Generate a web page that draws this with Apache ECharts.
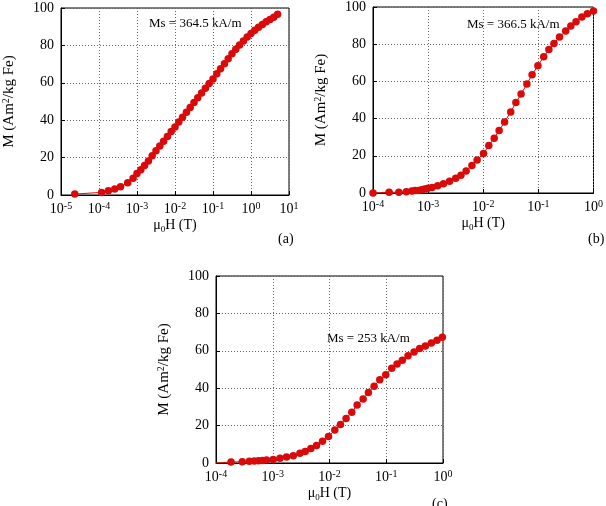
<!DOCTYPE html>
<html>
<head>
<meta charset="utf-8">
<script src="https://cdn.jsdelivr.net/npm/echarts@6/dist/echarts.min.js"></script>
<style>
  html, body { margin: 0; padding: 0; background: #fff; }
  #chart { width: 606px; height: 506px; }
</style>
</head>
<body>
<div id="chart"></div>
<script>
// field (T) and magnetisation (Am2/kg Fe)
let hA = [2.3e-5, 1.17e-4, 1.76e-4, 2.6e-4, 3.7e-4, 5.7e-4, 7.9e-4,
    1.0e-3, 1.26e-3, 1.58e-3, 2.0e-3, 2.51e-3, 3.16e-3, 3.98e-3, 5.01e-3, 6.31e-3, 7.94e-3,
    1.0e-2, 1.26e-2, 1.58e-2, 2.0e-2, 2.51e-2, 3.16e-2, 3.98e-2, 5.01e-2, 6.31e-2, 7.94e-2,
    0.1, 0.126, 0.158, 0.2, 0.251, 0.316, 0.398, 0.501, 0.631, 0.794,
    1.0, 1.26, 1.58, 2.0, 2.51, 3.16, 3.98, 5.01];
let mA = [0.5, 1.4, 2.3, 3.2, 4.4, 6.6, 8.9,
    11.5, 13.5, 15.8, 18.2, 21, 23.6, 26.2, 28.8, 31.3, 33.9,
    36.4, 39, 41.6, 44.2, 46.8, 49.4, 52, 54.6, 57.1, 59.6,
    62, 64.8, 67.5, 70.2, 72.9, 75.5, 77.9, 80.2, 82.4, 84.5,
    86.4, 88.1, 89.7, 91.2, 92.6, 93.9, 95.1, 96.6];

let hB = [1.0e-4, 1.96e-4, 2.94e-4, 4.02e-4, 5.06e-4, 5.78e-4, 6.62e-4, 7.58e-4, 8.67e-4, 9.93e-4,
    1.18e-3, 1.49e-3, 1.90e-3, 2.45e-3, 3.17e-3, 3.94e-3, 4.89e-3, 6.23e-3, 7.74e-3,
    1.01e-2, 1.26e-2, 1.58e-2, 1.94e-2, 2.44e-2, 3.15e-2, 3.91e-2, 4.85e-2, 6.19e-2, 7.69e-2,
    9.80e-2, 0.125, 0.155, 0.192, 0.242, 0.313, 0.388, 0.482, 0.615, 0.774, 1.0];
let mB = [0, 0.4, 0.4, 0.7, 1.1, 1.3, 1.4, 1.8, 2.1, 2.5,
    3.0, 3.9, 5.0, 6.3, 7.9, 9.6, 11.8, 14.8, 17.7,
    21.3, 25.5, 29.5, 33.6, 38.2, 43.6, 48.6, 53.2, 58.6, 63.6,
    68.4, 73.2, 77.1, 80.4, 83.9, 87.1, 89.8, 92.1, 94.6, 96.4, 97.9];

// panel (c): the line starts on the left axis, the first marker is further right
let hC = [1.0e-4, 1.84e-4, 2.90e-4, 3.86e-4, 4.72e-4, 5.63e-4, 6.62e-4, 7.78e-4,
    1.02e-3, 1.34e-3, 1.75e-3, 2.30e-3, 3.01e-3, 3.73e-3, 4.70e-3, 5.91e-3, 7.53e-3,
    9.60e-3, 1.24e-2, 1.56e-2, 1.96e-2, 2.47e-2, 3.07e-2, 3.91e-2, 4.85e-2, 6.11e-2, 7.69e-2,
    9.80e-2, 0.125, 0.155, 0.192, 0.242, 0.309, 0.388, 0.489, 0.623, 0.784, 0.973];
let mC = [0, 0.5, 0.7, 0.9, 1.1, 1.2, 1.4, 1.6,
    1.9, 2.5, 3.2, 3.9, 5.2, 6.2, 7.7, 9.4, 11.6,
    14.2, 17.6, 20.6, 23.8, 27.2, 31.0, 34.2, 37.7, 41.1, 44.5,
    47.2, 50.7, 52.9, 55.0, 57.3, 59.4, 61.2, 62.6, 64.2, 65.7, 67.3];

let msLabels = ["Ms = 364.5 kA/m", "Ms = 366.5 kA/m", "Ms = 253 kA/m"];
let panelTags = ["(a)", "(b)", "(c)"];
let yTicks = [0, 20, 40, 60, 80, 100];

const FONT = "Liberation Serif";
const RED = "#d90a0a";

let chart = echarts.init(document.getElementById("chart"));

function xAxisFor(idx, min, max) {
    return {
        type: "log",
        logBase: 10,
        gridIndex: idx,
        min: min,
        max: max,
        name: "\u03bc{sub|0}H (T)",
        nameLocation: "middle",
        nameGap: 22,
        nameTextStyle: {
            fontFamily: FONT, fontSize: 14, color: "#000",
            rich: {sub: {fontFamily: FONT, fontSize: 9, color: "#000", verticalAlign: "bottom", padding: [8, 0, 0, 0]}}
        },
        axisLine: {show: true, lineStyle: {color: "#000", width: 1}},
        axisTick: {show: true, inside: true, length: 4, lineStyle: {color: "#000"}},
        splitLine: {show: true, lineStyle: {color: "#666", type: [1, 2], width: 1}},
        axisLabel: {
            fontFamily: FONT, fontSize: 14, color: "#000", margin: 6,
            showMinLabel: true, showMaxLabel: true,
            formatter: function (v) {
                return "10{sup|" + Math.round(Math.log10(v)) + "}";
            },
            rich: {sup: {fontFamily: FONT, fontSize: 10, color: "#000", verticalAlign: "top", padding: [0, 0, 6, 0]}}
        }
    };
}

function yAxisFor(idx) {
    return {
        type: "value",
        gridIndex: idx,
        min: yTicks[0],
        max: yTicks[yTicks.length - 1],
        interval: 20,
        name: "M (Am{sup|2}/kg Fe)",
        nameLocation: "middle",
        nameRotate: 90,
        nameGap: 44,
        nameTextStyle: {
            fontFamily: FONT, fontSize: 15, color: "#000",
            rich: {sup: {fontFamily: FONT, fontSize: 10, color: "#000", verticalAlign: "top", padding: [0, 0, 6, 0]}}
        },
        axisLine: {show: true, lineStyle: {color: "#000", width: 1}},
        axisTick: {show: true, inside: true, length: 4, lineStyle: {color: "#000"}},
        splitLine: {show: true, lineStyle: {color: "#666", type: [1, 2], width: 1}},
        axisLabel: {fontFamily: FONT, fontSize: 14, color: "#000", margin: 7}
    };
}

function seriesFor(idx, hs, ms, size, hideFirst) {
    let data = hs.map(function (h, i) {
        if (hideFirst && i === 0) {
            return {value: [h, ms[i]], symbol: "none"};
        }
        return [h, ms[i]];
    });
    return {
        type: "line",
        xAxisIndex: idx,
        yAxisIndex: idx,
        data: data,
        symbol: "circle",
        symbolSize: size,
        showAllSymbol: true,
        itemStyle: {color: RED},
        lineStyle: {color: RED, width: 1},
        clip: false,
        animation: false
    };
}

let gridStyle = {show: true, borderColor: "#000", borderWidth: 1, backgroundColor: "transparent"};

let option = {
    animation: false,
    backgroundColor: "#fff",
    grid: [
        Object.assign({left: 61, top: 8, width: 228, height: 187}, gridStyle),
        Object.assign({left: 373, top: 7, width: 227, height: 186}, gridStyle),
        Object.assign({left: 216, top: 276, width: 227, height: 187}, gridStyle)
    ],
    xAxis: [xAxisFor(0, 1e-5, 10), xAxisFor(1, 1e-4, 1), xAxisFor(2, 1e-4, 1)],
    yAxis: [yAxisFor(0), yAxisFor(1), yAxisFor(2)],
    series: [
        seriesFor(0, hA, mA, 7.5, false),
        seriesFor(1, hB, mB, 7.5, false),
        seriesFor(2, hC, mC, 7.5, true)
    ],
    graphic: [
        {type: "text", left: 149, top: 17, style: {text: msLabels[0], font: "13px " + FONT, fill: "#000"}},
        {type: "text", left: 467, top: 18, style: {text: msLabels[1], font: "13px " + FONT, fill: "#000"}},
        {type: "text", left: 327, top: 332, style: {text: msLabels[2], font: "13px " + FONT, fill: "#000"}},
        {type: "text", left: 278, top: 232, style: {text: panelTags[0], font: "14px " + FONT, fill: "#000"}},
        {type: "text", left: 588, top: 232, style: {text: panelTags[1], font: "14px " + FONT, fill: "#000"}},
        {type: "text", left: 432, top: 497, style: {text: panelTags[2], font: "14px " + FONT, fill: "#000"}}
    ]
};

chart.setOption(option);
</script>
</body>
</html>
